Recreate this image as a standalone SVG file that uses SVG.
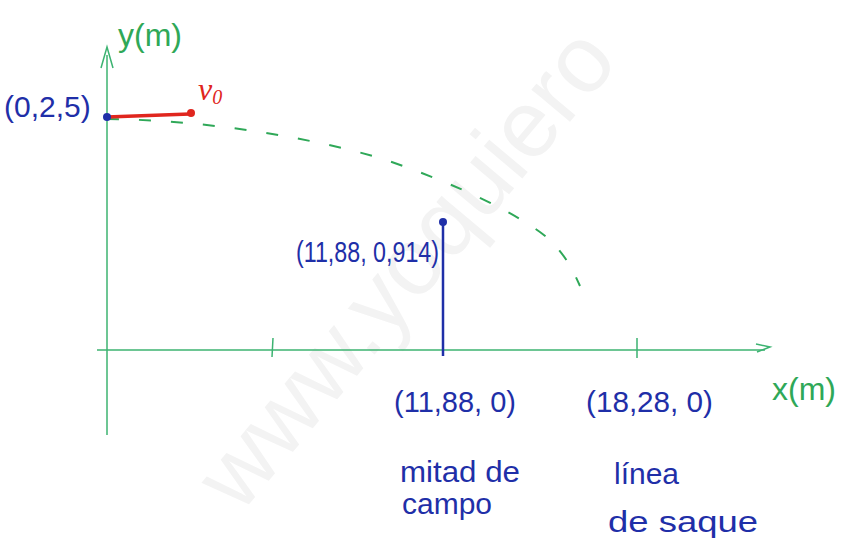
<svg xmlns="http://www.w3.org/2000/svg" width="861" height="552" viewBox="0 0 861 552">
<defs>
<style>
.ax{stroke:#3cb371;stroke-width:1.5;fill:none}
.axl{fill:#2fa858;font-family:"Liberation Sans",Arial,sans-serif;font-size:32px}
.bl{fill:#1f2fa8;font-family:"Liberation Sans",Arial,sans-serif}
.traj{stroke:#2fa858;stroke-width:2;fill:none;stroke-dasharray:12 20}
.red{stroke:#e0261e;stroke-width:3.5;fill:none;stroke-linecap:round}
</style>
</defs>
<rect width="861" height="552" fill="#fff"/>
<g transform="translate(240 515) rotate(-50)"><text x="0" y="0" fill="#f3f3f3" font-family="Liberation Sans,Arial,sans-serif" font-size="95">www.yoquiero</text></g>
<g id="connectors">
<path class="ax" d="M107 435 V55"/>
<path class="ax" d="M101 68 L107 47 L113 68"/>
<path class="ax" d="M97 350 H765"/>
<path class="ax" d="M756 344 L770 347 L757 352"/>
<path class="ax" d="M273 338 L272 357 M637 338 V358"/>
<path class="traj" d="M107 119 C200 120 300 135 380 158 C460 185 520 215 549 239 C565 255 572 268 580 286"/>
<path class="red" d="M107 117 L190 114"/>
<circle cx="191" cy="113" r="4" fill="#e0261e"/>
<path d="M443 222 V356" stroke="#1f2fa8" stroke-width="2.5"/>
<circle cx="443" cy="222" r="4" fill="#1f2fa8"/>
<circle cx="107" cy="117" r="4" fill="#1f2fa8"/>
</g>
<g id="yaxis-label"><text class="axl" x="118" y="46">y(m)</text></g>
<g id="xaxis-label"><text class="axl" x="772" y="400">x(m)</text></g>
<g id="v0"><text x="198" y="100" fill="#e0261e" font-family="Liberation Serif,serif" font-style="italic" font-size="32">v<tspan font-size="20" dy="4">0</tspan></text></g>
<g id="p0"><text class="bl" x="4" y="117" font-size="30">(0,2,5)</text></g>
<g id="p1"><text class="bl" x="296" y="262" font-size="29" textLength="143" lengthAdjust="spacingAndGlyphs">(11,88, 0,914)</text></g>
<g id="p2"><text class="bl" x="394" y="412" font-size="30" textLength="122" lengthAdjust="spacingAndGlyphs">(11,88, 0)</text></g>
<g id="p3"><text class="bl" x="586" y="412" font-size="30" textLength="127" lengthAdjust="spacingAndGlyphs">(18,28, 0)</text></g>
<g id="mitad"><text class="bl" font-size="30"><tspan x="400" y="482" textLength="120" lengthAdjust="spacingAndGlyphs">mitad de</tspan><tspan x="402" y="514">campo</tspan></text></g>
<g id="linea"><text class="bl" font-size="30"><tspan x="614" y="484">línea</tspan><tspan x="608" y="532" textLength="150" lengthAdjust="spacingAndGlyphs">de saque</tspan></text></g>
</svg>
